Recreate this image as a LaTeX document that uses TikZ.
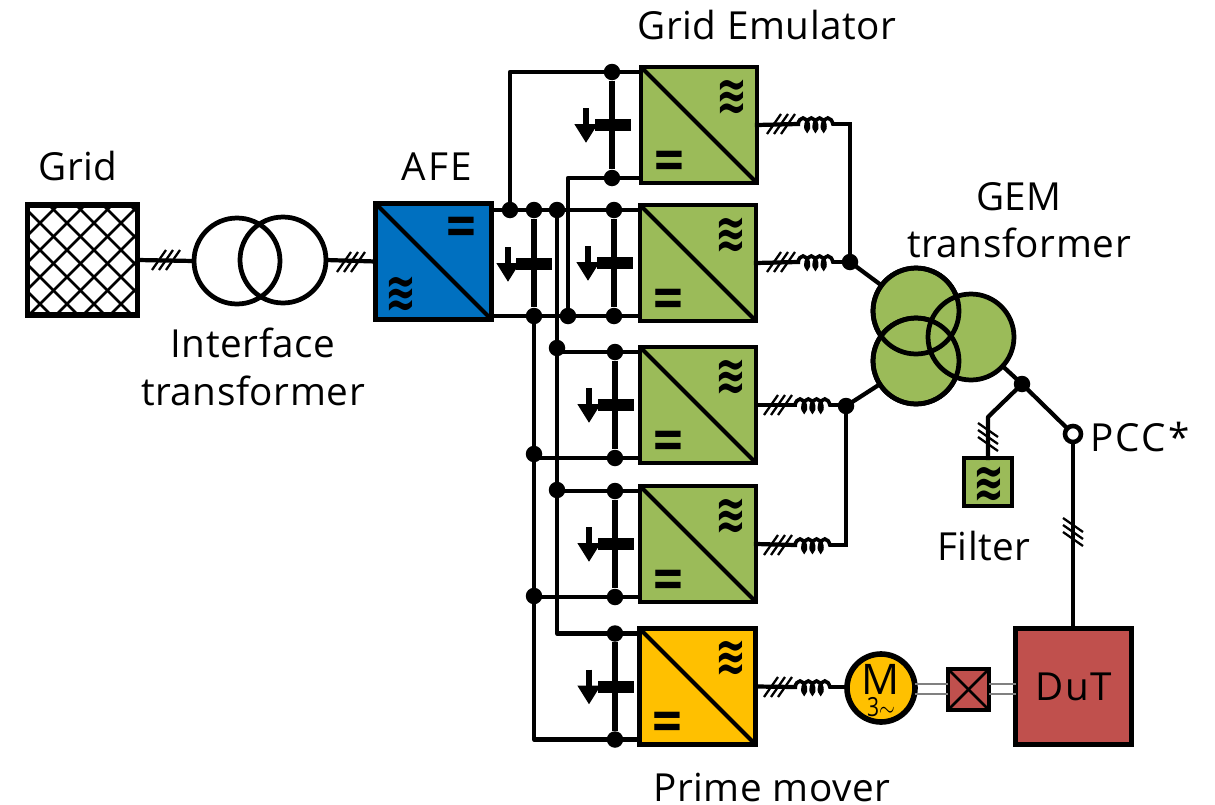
\documentclass[tikz,border=0pt]{standalone}
\usepackage{fontspec}
\setmainfont{Open Sans}[LetterSpace=1.5]
\newfontfamily\symbfont{DejaVu Sans}[BoldFont={DejaVu Sans Bold}]
\usetikzlibrary{arrows.meta,decorations.pathmorphing}
\definecolor{afeblue}{HTML}{0070C0}
\definecolor{gemgreen}{HTML}{9BBB59}
\definecolor{pmyellow}{HTML}{FFC000}
\definecolor{dutred}{HTML}{C0504D}
\tikzset{
    wire/.style={line width=2.4pt,line join=round,line cap=rect},
    bus/.style={line width=3.2pt},
    conv/.style={draw,line width=2.5pt,minimum size=2.32cm,inner sep=0pt,outer sep=0pt},
    slant/.style={line width=2.3pt},
    dot/.style={circle,fill,inner sep=0pt,minimum size=.33cm},
    plate/.style={fill,inner sep=0pt,minimum width=.72cm,minimum height=.24cm},
    flow/.style={line width=3pt,->},
    coilwire/.style={line width=2.1pt,decorate,decoration={coil,aspect=.5,amplitude=3.4pt,segment length=4.7pt}},
    ring/.style={circle,draw,line width=2.7pt,minimum size=1.72cm,inner sep=0pt,outer sep=0pt},
    ac/.style={font=\symbfont\bfseries\fontsize{21}{21}\selectfont,inner sep=0pt},
    dc/.style={font=\symbfont\bfseries\fontsize{23}{23}\selectfont,inner sep=0pt},
    lab/.style={font=\fontsize{22}{27}\selectfont,inner sep=0pt,align=center},
    ticks/.pic={\foreach \d in {-7,0,7} \draw[line width=1.3pt] (\d-7,10)--(\d+7,-10);}
}
\begin{document}
\begin{tikzpicture}[x=.02cm,y=-.02cm,>={Triangle[length=.38cm,width=.44cm]}]
    \useasboundingbox (0,0) rectangle (1215,805);
    \node[draw,line width=3pt,minimum size=2.2cm,inner sep=0pt,outer sep=0pt,path picture={
        \foreach \s in {-135,-108,...,135} {
            \draw[line width=1.5pt] (\s-5.5-60,-60)--(\s-5.5+60,60);
            \draw[line width=1.5pt] (\s+1.5+60,-60)--(\s+1.5-60,60);
        }}] (grid) at (82.5,260) {};
    \node[lab] (gridlab) at (78,166) {Grid};
    \node[ring] (t1) at (237,261) {};
    \node[ring] (t2) at (283,260) {};
    \node[lab] (ifacelab) at (253,367) {Interface\\transformer};
    \node[conv,fill=afeblue] (afe) at (433.5,261.5) {};
    \draw[slant] (afe.north west)--(afe.south east);
    \node[dc] (afedc) at (461,230) {\scalebox{1}[1.35]{=}};
    \node[ac] (afeac) at (401,294) {\scalebox{1}[1.45]{≋}};
    \node[lab] (afelab) at (437,167) {\addfontfeature{LetterSpace=6}AFE};
    \draw[wire] (grid.east)--(t1.west);
    \draw[wire] (t2.east)--(afe.west);
    \pic at (166,260) {ticks};
    \pic at (351,262) {ticks};
    \foreach \n/\cx/\cy/\dx/\col in {g1/699/125/612/gemgreen,g2/698/263/614/gemgreen,g3/698/405/615/gemgreen,g4/698/544/615/gemgreen,pm/697.5/686.5/615/pmyellow} {
        \node[conv,fill=\col] (\n) at (\cx,\cy) {};
        \draw[slant] (\n.north west)--(\n.south east);
        \node[ac] (\n ac) at (\cx+33,\cy-28) {\scalebox{1}[1.45]{≋}};
        \node[dc] (\n dc) at (\cx-30,\cy+39) {\scalebox{1}[1.35]{=}};
        \node[dot] (\n t) at (\dx,\cy-53) {};
        \node[dot] (\n b) at (\dx,\cy+53) {};
        \node[plate] (\n p) at (\dx+1,\cy) {};
        \draw[wire] (\n t)--(\n t -| \n.west);
        \draw[wire] (\n b)--(\n b -| \n.west);
        \draw[bus] (\n t)--(\n b);
        \draw[flow] (\dx-26,\cy-17)--(\dx-26,\cy+18);
    }
    \node[dot] (a1) at (510,210) {};
    \node[dot] (a2) at (534,210) {};
    \node[dot] (a3) at (557,210) {};
    \node[dot] (b1) at (534,316) {};
    \node[dot] (b2) at (568,316) {};
    \node[dot] (c1) at (534,454) {};
    \node[dot] (c2) at (534,596) {};
    \node[dot] (d1) at (557,348) {};
    \node[dot] (d2) at (557,490) {};
    \node[plate] (afep) at (534,264) {};
    \draw[wire] (a1 -| afe.east)--(a1)--(a2)--(a3)--(g2t);
    \draw[wire] (b1 -| afe.east)--(b1)--(b2)--(g2b);
    \draw[wire] (a1)|-(g1t);
    \draw[wire] (b2)|-(g1b);
    \draw[bus] (a2)--(b1);
    \draw[flow] (508,247)--(508,282);
    \draw[wire] (b1)--(c1)--(c2)|-(pmb);
    \draw[wire] (a3)--(d1)--(d2)|-(pmt);
    \draw[wire] (d1)|-(g3t);
    \draw[wire] (c1)|-(g3b);
    \draw[wire] (d2)|-(g4t);
    \draw[wire] (c2)|-(g4b);
    \node[lab] (gelab) at (767,25) {Grid Emulator};
    \node[lab] (pmlab) at (772,787) {Prime mover};
    \node[ring,fill=gemgreen] (w1) at (916,311) {};
    \node[ring,fill=gemgreen] (w2) at (916,361) {};
    \node[ring,fill=gemgreen] (w3) at (971,337) {};
    \node[ring] (w1o) at (916,311) {};
    \node[ring] (w2o) at (916,361) {};
    \node[lab] (gemlab) at (1019,220) {GEM\\transformer};
    \node[dot] (j1) at (850,262) {};
    \node[dot] (j2) at (846,406) {};
    \node[dot] (j3) at (1022,384) {};
    \coordinate (e1) at (850,124);
    \coordinate (e4) at (846,545);
    \foreach \n/\ax/\ay in {g1/798/124,g2/798/262,g3/795/405,g4/795/545,pm/795/687} {
        \coordinate (ls\n) at (\ax,\ay);
        \coordinate (le\n) at (\ax+38,\ay);
        \pic at (\ax-17,\ay) {ticks};
    }
    \node[circle,draw,line width=3.2pt,fill=pmyellow,minimum size=1.36cm,inner sep=0pt,outer sep=0pt] (mot) at (881,688) {};
    \node[font=\fontsize{24}{24}\selectfont,inner sep=0pt] (motm) at (881,679) {M};
    \node[font=\rmfamily\fontsize{15}{15}\selectfont,inner sep=0pt] (motn) at (881,707) {\scalebox{.8}[1]{3$\sim$}};
    \foreach \n/\j in {g1/e1,g2/j1,g3/j2,g4/e4} {
        \draw[wire] (\n.east)--(ls\n);
        \draw[coilwire] (ls\n)--(le\n);
        \draw[wire] (le\n)--(le\n -| \j);
    }
    \draw[wire] (pm.east)--(lspm);
    \draw[coilwire] (lspm)--(lepm);
    \draw[wire] (lepm)--(mot.west |- lepm);
    \draw[wire] (e1)--(j1);
    \draw[wire] (e4)--(j2);
    \draw[wire] (j1)--(w1);
    \draw[wire] (j2)--(w2);
    \draw[wire] (w3)--(j3);
    \node[draw,line width=2.5pt,fill=gemgreen,minimum size=.96cm,inner sep=0pt,outer sep=0pt] (filt) at (988,482) {};
    \node[ac] (filtac) at (989,484) {\scalebox{1}[1.45]{≋}};
    \node[lab] (filtlab) at (984,546) {Filter};
    \coordinate (k1) at (988,417);
    \draw[wire] (j3)--(k1)--(filt.north);
    \node[circle,draw,line width=2.6pt,fill=white,minimum size=.32cm,inner sep=0pt,outer sep=0pt] (pcc) at (1073,434) {};
    \node[lab,anchor=west] (pcclab) at (1090,437) {\addfontfeature{LetterSpace=6}PCC*};
    \draw[wire] (j3)--(pcc);
    \pic[rotate=90] at (988,437) {ticks};
    \node[draw,line width=2.5pt,fill=dutred,minimum size=2.32cm,inner sep=0pt,outer sep=0pt,font=\fontsize{22}{22}\selectfont] (dut) at (1073.5,686.5) {\addfontfeature{LetterSpace=4}DuT};
    \draw[wire] (pcc)--(pcc |- dut.north);
    \pic[rotate=90] at (1073,532) {ticks};
    \node[draw,line width=2.3pt,fill=dutred,minimum size=.82cm,inner sep=0pt,outer sep=0pt] (cpl) at (968.5,689.5) {};
    \draw[line width=1.5pt] (cpl.north west)--(cpl.south east);
    \draw[line width=1.5pt] (cpl.south west)--(cpl.north east);
    \foreach \y in {684,694} {
        \coordinate (s\y) at (0,\y);
        \draw[line width=.7pt,gray] (mot.east |- s\y)--(cpl.west |- s\y);
        \draw[line width=.7pt,gray] (cpl.east |- s\y)--(dut.west |- s\y);
    }
\end{tikzpicture}
\end{document}
